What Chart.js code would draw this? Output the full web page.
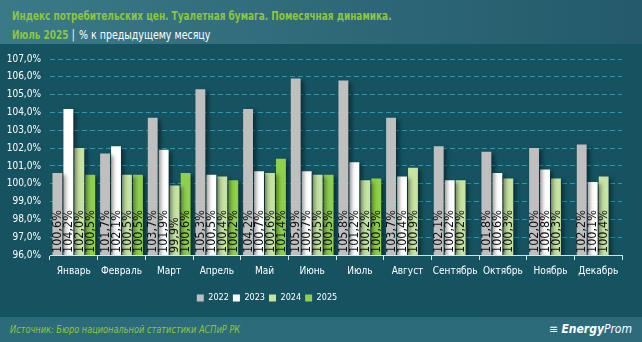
<!DOCTYPE html>
<html><head><meta charset="utf-8">
<script src="https://cdn.jsdelivr.net/npm/chart.js@4"></script>
<style>
html,body{margin:0;padding:0;width:642px;height:342px;overflow:hidden;background:#155361;font-family:"DejaVu Sans Condensed","Liberation Sans Narrow",sans-serif;}
#hdr{position:absolute;left:0;top:0;width:642px;height:44px;background:linear-gradient(90deg,#3a7a87,#245a6b);}
.sx{position:absolute;left:12px;white-space:nowrap;transform-origin:0 50%;}
#t1{top:9px;color:#8cc63e;font-weight:bold;font-size:12px;transform:scaleX(0.83);}
#t2{top:27px;color:#8cc63e;font-weight:bold;font-size:12px;transform:scaleX(0.83);}
#t2 span.w{color:#fff;font-weight:normal;font-size:12.7px;}
#t2 span.bar{color:#fff;font-weight:normal;padding:0 5px 0 4px;}
#wrap{position:absolute;left:0;top:44px;width:642px;height:273px;}
#ftr{position:absolute;left:0;top:317px;width:642px;height:25px;background:linear-gradient(90deg,#2c6b79,#2d6b7b);}
#src{left:10px;top:6px;color:#8cc63e;font-style:italic;font-size:11px;transform:scaleX(0.83);}
#logo{position:absolute;right:10px;top:5px;color:#fff;font-style:italic;font-size:12px;white-space:nowrap;}
#logo b{font-weight:bold;}
</style></head>
<body>
<div id="hdr">
<div id="t1" class="sx">Индекс потребительских цен. Туалетная бумага. Помесячная динамика.</div>
<div id="t2" class="sx">Июль 2025<span class="bar">|</span><span class="w">% к предыдущему месяцу</span></div>
</div>
<div id="wrap"><canvas id="c"></canvas></div>
<div id="ftr">
<div id="src" class="sx">Источник: Бюро национальной статистики АСПиР РК</div>
<div id="logo">&#8801; <b>Energy</b>Prom</div>
</div>
<script>
const months = ["Январь","Февраль","Март","Апрель","Май","Июнь","Июль","Август","Сентябрь","Октябрь","Ноябрь","Декабрь"];
const years = ["2022","2023","2024","2025"];
const v2022 = [100.6,101.7,103.7,105.3,104.2,105.9,105.8,103.7,102.1,101.8,102.0,102.2];
const v2023 = [104.2,102.1,101.9,100.5,100.7,100.7,101.2,100.4,100.2,100.6,100.8,100.1];
const v2024 = [102.0,100.5,99.9,100.4,100.6,100.5,100.2,100.9,100.2,100.3,100.3,100.4];
const v2025 = [100.5,100.5,100.6,100.2,101.4,100.5,100.3,null,null,null,null,null];
const colors = ["#bfbfbf","#ffffff","#c6e3a3","#8ecf4e"];
const series = [v2022,v2023,v2024,v2025];

const FF = '"DejaVu Sans Condensed","Liberation Sans Narrow",sans-serif';
const fmt = v => v.toFixed(1).replace('.', ',') + '%';

const shadowPlugin = {
  id:'shadow',
  afterLayout(chart){
    const lg = chart.legend;
    if(lg){ lg.left -= 44; lg.right -= 44; lg.top += 5; lg.bottom += 5; }
  },
  beforeDatasetsDraw(chart){ const c=chart.ctx; c.save(); c.shadowColor='rgba(0,0,0,0.45)'; c.shadowOffsetX=3; c.shadowOffsetY=2; c.shadowBlur=4; },
  afterDatasetsDraw(chart){
    const c=chart.ctx; c.restore();
    c.save();
    c.font='12.5px '+FF;
    c.fillStyle='#111';
    c.textAlign='left'; c.textBaseline='middle';
    const bottom = chart.chartArea.bottom;
    chart.data.datasets.forEach((ds,i)=>{
      chart.getDatasetMeta(i).data.forEach((bar,j)=>{
        const v = ds.data[j];
        if(v==null) return;
        c.save();
        c.translate(bar.x+0.5, bottom-2);
        c.rotate(-Math.PI/2);
        c.fillText(fmt(v),0,0);
        c.restore();
      });
    });
    c.restore();
  }
};

new Chart(document.getElementById('c'),{
  type:'bar',
  data:{labels:months,datasets:series.map((d,i)=>({label:years[i],data:d,backgroundColor:colors[i],borderWidth:0,categoryPercentage:0.92,barPercentage:0.9}))},
  options:{
    responsive:true,maintainAspectRatio:false,animation:false,
    layout:{padding:{top:15,right:20,left:0,bottom:9.5}},
    plugins:{
      legend:{position:'bottom',labels:{color:'#fff',boxWidth:7,boxHeight:7,padding:4,font:{size:9,family:FF}}},
      tooltip:{enabled:false}
    },
    scales:{
      x:{
        afterFit(s){s.height=29.5;},
        grid:{drawOnChartArea:false,color:'#d8e2e5',tickLength:5},
        border:{color:'#d8e2e5'},
        ticks:{color:'#fff',maxRotation:0,autoSkip:false,padding:5,font:{size:10,family:FF}}
      },
      y:{
        min:96,max:107,
        afterFit(s){s.width=50;},
        border:{display:false,dash:[5,3]},
        grid:{color:c=>c.tick.value===96?'rgba(0,0,0,0)':'#2a97b0',drawTicks:false},
        ticks:{stepSize:1,autoSkip:false,color:'#fff',padding:9,callback:v=>fmt(v),font:{size:10,family:FF}}
      }
    }
  },
  plugins:[shadowPlugin]
});
</script>
</body></html>
